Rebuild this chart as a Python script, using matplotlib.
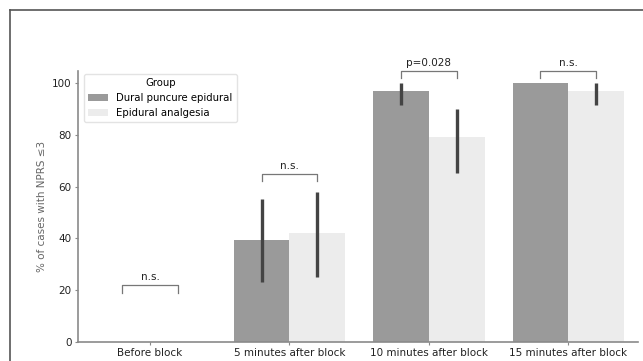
import matplotlib.pyplot as plt
import numpy as np
from matplotlib.lines import Line2D

# data
categories = ['Before block', '5 minutes after block', '10 minutes after block', '15 minutes after block']
groups = ['Dural puncure epidural', 'Epidural analgesia']
dpe_pct = [0, 39.3, 97.0, 100.0]
epi_pct = [0, 42.0, 79.0, 97.0]
dpe_lo = [0, 23.2, 91.5, 100.0]
dpe_hi = [0, 55.2, 100.0, 100.0]
epi_lo = [0, 25.2, 65.1, 91.5]
epi_hi = [0, 58.0, 89.8, 100.0]
sig_labels = ['n.s.', 'n.s.', 'p=0.028', 'n.s.']
sig_height = [19.0, 62.0, 101.8, 101.8]

dark = '#9a9a9a'
light = '#ececec'
spine_col = '#8a8a8a'

fig = plt.figure(figsize=(6.43, 3.61), dpi=100)
ax = fig.add_axes([0.1213, 0.0526, 0.8710, 0.7504])

x = np.arange(len(categories))
w = 0.4
ax.bar(x - w / 2, dpe_pct, width=w, color=dark, label=groups[0])
ax.bar(x + w / 2, epi_pct, width=w, color=light, label=groups[1])

# confidence intervals
for i in range(len(categories)):
    if dpe_hi[i] > dpe_lo[i]:
        ax.plot([x[i] - w / 2] * 2, [dpe_lo[i], dpe_hi[i]], color='#444444', lw=2.4, solid_capstyle='butt')
    if epi_hi[i] > epi_lo[i]:
        ax.plot([x[i] + w / 2] * 2, [epi_lo[i], epi_hi[i]], color='#444444', lw=2.4, solid_capstyle='butt')

# significance brackets
for i, lab in enumerate(sig_labels):
    y0 = sig_height[i]
    h = 3.0
    ax.plot([x[i] - w / 2, x[i] - w / 2, x[i] + w / 2, x[i] + w / 2],
            [y0, y0 + h, y0 + h, y0], color='#777777', lw=0.9, clip_on=False)
    ax.text(x[i], y0 + h + 1.0, lab, ha='center', va='bottom', fontsize=7.5, color='#222222')

ax.set_xlim(-0.517, 3.5)
ax.set_ylim(0, 104.6)
ax.set_yticks([0, 20, 40, 60, 80, 100])
ax.set_xticks(x)
ax.set_xticklabels(categories)
ax.set_ylabel('% of cases with NPRS \u22643', fontsize=7.5, color='#666666')
ax.tick_params(labelsize=7.5, colors='#222222', length=2.5, width=0.8, pad=2)
ax.tick_params(color=spine_col)
for s in ['top', 'right']:
    ax.spines[s].set_visible(False)
for s in ['left', 'bottom']:
    ax.spines[s].set_color(spine_col)
    ax.spines[s].set_linewidth(1.2)

leg = ax.legend(title='Group', loc='upper left', fontsize=7.3, title_fontsize=7.3,
                frameon=True, bbox_to_anchor=(0.005, 1.0), borderaxespad=0.3)
leg.get_frame().set_edgecolor('#dddddd')

# outer frame of the figure (top and left edges only visible)
fig.add_artist(Line2D([10 / 643, 1.0], [1 - 10 / 361] * 2, color='#555555', lw=1.2))
fig.add_artist(Line2D([10 / 643] * 2, [0.0, 1 - 10 / 361], color='#555555', lw=1.2))

plt.savefig('out.png', dpi=100)
